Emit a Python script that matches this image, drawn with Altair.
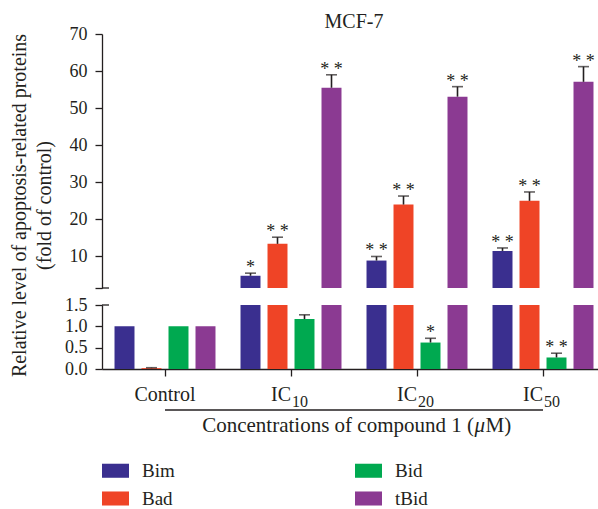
import altair as alt
import pandas as pd

FONT = "Liberation Serif"
INK = "#231f20"

groups = ["Control", "IC10", "IC20", "IC50"]
proteins = ["Bim", "Bad", "Bid", "tBid"]
colors = ["#3a2f8f", "#ef4426", "#00a950", "#8b3a92"]

bim = [1.0, 4.8, 8.9, 11.5]
bim_err = [0.0, 0.7, 1.1, 0.8]
bad = [0.02, 13.4, 24.0, 25.0]
bad_err = [0.01, 1.8, 2.3, 2.4]
bid = [1.0, 1.17, 0.62, 0.27]
bid_err = [0.0, 0.1, 0.1, 0.1]
tbid = [1.0, 55.5, 53.1, 57.1]
tbid_err = [0.0, 3.5, 2.7, 4.1]

bim_sig = ["", "*", "* *", "* *"]
bad_sig = ["", "* *", "* *", "* *"]
bid_sig = ["", "", "*", "* *"]
tbid_sig = ["", "* *", "* *", "* *"]

x_main = ["Control", "IC", "IC", "IC"]
x_sub = ["", "10", "20", "50"]
top_ticks = [1.5, 10, 20, 30, 40, 50, 60, 70]
bottom_ticks = [0.0, 0.5, 1.0, 1.5]
y_title = ["Relative level of apoptosis-related proteins", "(fold of control)"]
x_title_parts = ["Concentrations of compound 1 (", "\u03bc", "M)"]
chart_title = "MCF-7"

rows = []
for p, vals, errs, sigs in [("Bim", bim, bim_err, bim_sig), ("Bad", bad, bad_err, bad_sig),
                            ("Bid", bid, bid_err, bid_sig), ("tBid", tbid, tbid_err, tbid_sig)]:
    for g, v, e, s in zip(groups, vals, errs, sigs):
        rows.append({"group": g, "protein": p, "value": v, "err": e, "top": v + e, "sig": s})
df = pd.DataFrame(rows)

labels = pd.DataFrame({"group": groups, "main": x_main, "sub": x_sub})
span = pd.DataFrame({"group": [groups[0]], "b": [groups[-1]]})
one = pd.DataFrame({"k": [0]})

xscale = alt.Scale(domain=groups, paddingInner=0.1429, paddingOuter=0.0397, align=0.9)
xoscale = alt.Scale(domain=proteins, paddingInner=0.26, paddingOuter=0.13)

color = alt.Color(
    "protein:N",
    scale=alt.Scale(domain=proteins, range=colors),
    legend=alt.Legend(
        title=None, orient="none", legendX=0, legendY=423, columns=2,
        columnPadding=180, rowPadding=4, symbolType="M-1,-0.52H1V0.52H-1Z",
        symbolSize=729, symbolStrokeWidth=0, symbolOpacity=1, labelFont=FONT, labelFontSize=19,
        labelColor=INK, labelOffset=13,
    ),
)

W = 496
H_TOP = 254
H_BOT = 64


def panel(data_filter, ydom, yaxis, xaxis):
    X = alt.X("group:N", scale=xscale, axis=xaxis)
    XO = alt.XOffset("protein:N", scale=xoscale)
    ysc = alt.Scale(domain=ydom, zero=False, nice=False)
    YV = alt.Y("value:Q", scale=ysc, axis=yaxis)
    YT = alt.Y("top:Q", scale=ysc, axis=yaxis)
    base = alt.Chart(df).transform_filter(data_filter)
    bars = base.mark_bar(clip=True).encode(x=X, xOffset=XO, y=YV, color=color)
    eb = base.transform_filter("datum.err > 0 && datum.top <= %s" % ydom[1])
    rule = eb.mark_rule(color=INK, strokeWidth=1.6).encode(x=X, xOffset=XO, y=YV, y2="top:Q")
    cap = eb.mark_tick(color=INK, thickness=1.6, size=11).encode(x=X, xOffset=XO, y=YT)
    stars = eb.transform_filter("datum.sig != ''").mark_text(
        baseline="bottom", dy=4, font=FONT, fontSize=18, color=INK).encode(
        x=X, xOffset=XO, y=YT, text="sig:N")
    return X, [bars, rule, cap, stars]


top_axis = alt.Axis(values=top_ticks, labelExpr="datum.value < 2 ? '' : datum.label",
                    title=y_title, titleFont=FONT, titleFontSize=20, titleFontWeight="normal",
                    titleColor=INK, titleAngle=270, titleAlign="center", titleBaseline="middle",
                    titleX=-83, titleY=171, titleLineHeight=25)
bot_axis = alt.Axis(values=bottom_ticks, format=".1f", title=None)
bot_xaxis = alt.Axis(title=None, labels=False, ticks=True, tickSize=7, domain=True)

# break marks on the y axis (extend the end ticks across the axis line)
brk_top = alt.Chart(one).mark_rule(color=INK, strokeWidth=1.3).encode(
    x=alt.value(0), x2=alt.value(7), y=alt.value(H_TOP))
brk_bot = alt.Chart(one).mark_rule(color=INK, strokeWidth=1.3).encode(
    x=alt.value(0), x2=alt.value(7), y=alt.value(0))

_, top_layers = panel("datum.value > 1.5", [1.5, 70], top_axis, None)
top = alt.layer(*top_layers, brk_top).properties(width=W, height=H_TOP)

XB, bot_layers = panel("true", [0, 1.5], bot_axis, bot_xaxis)

ctrl_lab = alt.Chart(labels).transform_filter("datum.sub == ''").mark_text(
    align="center", baseline="alphabetic", font=FONT, fontSize=20, color=INK).encode(
    x=XB, y=alt.value(96), text="main:N")
ic_lab = alt.Chart(labels).transform_filter("datum.sub != ''").mark_text(
    align="right", baseline="alphabetic", font=FONT, fontSize=20, color=INK).encode(
    x=XB, y=alt.value(96), text="main:N")
ic_sub = alt.Chart(labels).transform_filter("datum.sub != ''").mark_text(
    align="left", baseline="alphabetic", dx=1, font=FONT, fontSize=16, color=INK).encode(
    x=XB, y=alt.value(101.5), text="sub:N")
underline = alt.Chart(span).mark_rule(color=INK, strokeWidth=1.3).encode(
    x=XB, x2=alt.X2("b:N", bandPosition=0.5), y=alt.value(105))

xt = pd.DataFrame({"a": [x_title_parts[0]], "b": [x_title_parts[1]], "c": [x_title_parts[2]]})
xt1 = alt.Chart(xt).mark_text(
    align="right", baseline="alphabetic", font=FONT, fontSize=21, color=INK).encode(
    x=alt.value(372), y=alt.value(127), text="a:N")
xt2 = alt.Chart(xt).mark_text(
    align="left", baseline="alphabetic", font=FONT, fontSize=21, fontStyle="italic",
    color=INK).encode(x=alt.value(372.5), y=alt.value(127), text="b:N")
xt3 = alt.Chart(xt).mark_text(
    align="left", baseline="alphabetic", font=FONT, fontSize=21, color=INK).encode(
    x=alt.value(383.5), y=alt.value(127), text="c:N")

bottom = alt.layer(*bot_layers, brk_bot, ctrl_lab, ic_lab, ic_sub, underline,
                   xt1, xt2, xt3).properties(width=W, height=H_BOT)

chart = alt.vconcat(top, bottom, spacing=17, bounds="flush").properties(
    title=alt.TitleParams(chart_title, font=FONT, fontSize=20, fontWeight="normal", color=INK,
                          anchor="middle", frame="group", dx=4, offset=-7),
    padding={"left": 8, "top": 12, "right": 0, "bottom": 0},
).configure_view(stroke=None).configure_axis(
    labelFont=FONT, labelFontSize=18, labelColor=INK, domainColor=INK, tickColor=INK,
    grid=False, tickSize=7, labelPadding=8, domainWidth=1.3, tickWidth=1.3,
)

chart.save("out.html", embed_options={"renderer": "svg", "actions": False})
